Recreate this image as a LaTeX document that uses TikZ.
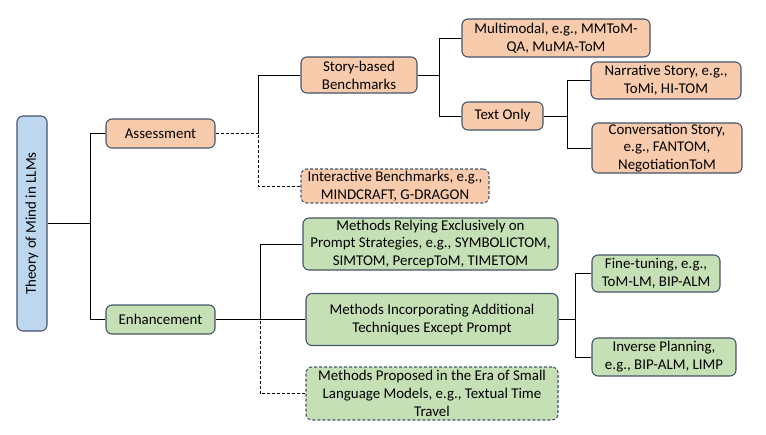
\documentclass[tikz,border=0pt]{standalone}
\usepackage{fontspec}
\setmainfont{Carlito}
\definecolor{bord}{HTML}{44546A}
\definecolor{orf}{HTML}{F8CBAD}
\definecolor{grf}{HTML}{C5E0B4}
\definecolor{blf}{HTML}{BDD7EE}
\begin{document}
\begin{tikzpicture}[x=1pt,y=-1pt,
  box/.style={draw=bord, rounded corners=6pt, line width=1.1pt, align=center, inner sep=0pt,
    font=\fontsize{14.9}{17.8}\selectfont},
  obox/.style={box, fill=orf},
  gbox/.style={box, fill=grf},
  dbox/.style={dash pattern=on 3pt off 2pt},
  conn/.style={draw=black, line width=0.9pt},
  dconn/.style={conn, dash pattern=on 3pt off 2pt}]
\useasboundingbox (0,0) rectangle (766,434);
\node[box, fill=blf, rotate=90, minimum width=215, minimum height=30] (root) at (32,223.5) {Theory of Mind in LLMs};
\node[obox, minimum width=109, minimum height=29] (assess) at (160.5,133.5) {Assessment};
\node[gbox, minimum width=109, minimum height=29] (enh) at (160.5,319.5) {Enhancement};
\node[obox, minimum width=116, minimum height=36] (story) at (359,75) {Story-based\\Benchmarks};
\node[obox, minimum width=188, minimum height=38] (multi) at (556,38) {Multimodal, e.g., MMToM-\\QA, MuMA-ToM};
\node[obox, minimum width=81, minimum height=28] (textonly) at (502.5,116) {Text Only};
\node[obox, minimum width=150, minimum height=37] (narr) at (666,80.5) {Narrative Story, e.g.,\\ToMi, HI-TOM};
\node[obox, minimum width=150, minimum height=50] (conv) at (667,148) {Conversation Story,\\e.g., FANTOM,\\NegotiationToM};
\node[obox, dbox, minimum width=188, minimum height=34] (inter) at (395,186) {Interactive Benchmarks, e.g.,\\MINDCRAFT, G-DRAGON};
\node[gbox, minimum width=255, minimum height=52] (rely) at (430.5,244) {Methods Relying Exclusively on\\Prompt Strategies, e.g., SYMBOLICTOM,\\SIMTOM, PercepToM, TIMETOM};
\node[gbox, minimum width=252, minimum height=52] (incorp) at (432,319.5) {Methods Incorporating Additional\\Techniques Except Prompt};
\node[gbox, dbox, minimum width=252, minimum height=53] (prop) at (432,393.5) {Methods Proposed in the Era of Small\\Language Models, e.g., Textual Time\\Travel};
\node[gbox, minimum width=128, minimum height=37] (fine) at (656,273.5) {Fine-tuning, e.g.,\\ToM-LM, BIP-ALM};
\node[gbox, minimum width=144, minimum height=38] (inv) at (664,357) {Inverse Planning,\\e.g., BIP-ALM, LIMP};
\coordinate (r1) at (90,223.5);
\coordinate (a1) at (258,133.5);
\coordinate (s1) at (439,75);
\coordinate (t1) at (567,116);
\coordinate (e1) at (260,319.5);
\coordinate (i1) at (575,319.5);
\draw[conn] (root.south) -- (r1);
\draw[conn] (assess.west) -| (r1);
\draw[conn] (enh.west) -| (r1);
\draw[dconn] (assess.east) -- (a1);
\draw[conn] (story.west) -| (a1);
\draw[dconn] (inter.west) -| (a1);
\draw[conn] (story.east) -- (s1);
\draw[conn] (multi.west) -| (s1);
\draw[conn] (textonly.west) -| (s1);
\draw[conn] (textonly.east) -- (t1);
\draw[conn] (narr.west) -| (t1);
\draw[conn] (conv.west) -| (t1);
\draw[conn] (enh.east) -- (e1) -- (incorp.west);
\draw[conn] (rely.west) -| (e1);
\draw[dconn] (prop.west) -| (e1);
\draw[conn] (incorp.east) -- (i1);
\draw[conn] (fine.west) -| (i1);
\draw[conn] (inv.west) -| (i1);
\end{tikzpicture}
\end{document}
